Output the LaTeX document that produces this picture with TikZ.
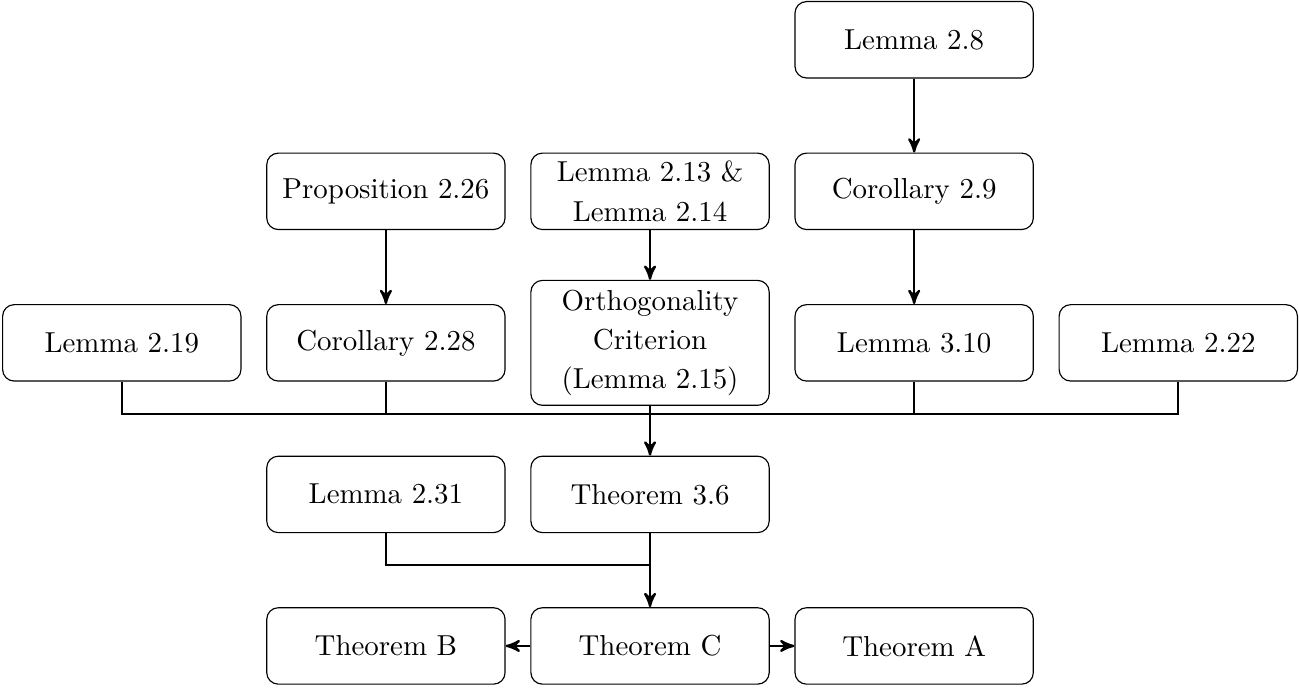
\documentclass[tikz,border=0pt]{standalone}
\usetikzlibrary{arrows,positioning,calc}

\begin{document}
\begin{tikzpicture}[>=stealth',auto,node distance=0.9cm and 0.3cm,
    result/.style={draw,rounded corners,minimum width=2.9cm,minimum height=0.93cm,align=center},
    link/.style={thick}]

                \node[result] (l219) {Lemma 2.19};

                \node[result] (c228) [right=of l219] {Corollary 2.28};

                \node[result,minimum height=1.52cm,inner ysep=3pt] (ortho) [right=of c228] {Orthogonality\\[1.5pt]Criterion\\[1.5pt](Lemma 2.15)};

                \node[result] (l310) [right=of ortho] {Lemma 3.10};

                \node[result] (l222) [right=of l310] {Lemma 2.22};

                \node[result] (p226) [above=of c228] {Proposition 2.26};

                \node[result,inner ysep=2pt] (l213) [right=of p226] {Lemma 2.13 \&\\[2pt]Lemma 2.14};

                \node[result] (c29) [above=of l310] {Corollary 2.9};

                \node[result] (l28) [above=of c29] {Lemma 2.8};

                \node[result] (l231) [below=of c228] {Lemma 2.31};

                \node[result] (t36) [right=of l231] {Theorem 3.6};

                \node[result] (tC) [below=of t36] {Theorem C};

                \node[result] (tB) [left=of tC] {Theorem B};

                \node[result] (tA) [right=of tC] {Theorem A};

                % frame
                \useasboundingbox ($(l219.west |- l28.north)+(-0.025,0.012)$) rectangle ($(l222.east |- tC.south)+(0.012,-0.05)$);

                \path[->,link] (l28) edge (c29)
                          (c29) edge (l310)
                          (p226) edge (c228)
                          (l213) edge (ortho);

                % collect the third row
                \coordinate[below=0.39cm of l219.south] (bus);
                \draw[link] (l219.south) -- (bus) -- (bus -| l222.south) -- (l222.south);
                \draw[link] (c228.south) -- (c228.south |- bus);
                \draw[link] (l310.south) -- (l310.south |- bus);
                \draw[->,link] (ortho) -- (t36);

                \coordinate[below=0.39cm of l231.south] (bus2);
                \draw[link] (l231.south) -- (bus2) -- (bus2 -| t36.south);
                \draw[->,link] (t36) -- (tC);

                \path[->,link] (tC) edge (tB)
                          (tC) edge (tA);

            \end{tikzpicture}
\end{document}
